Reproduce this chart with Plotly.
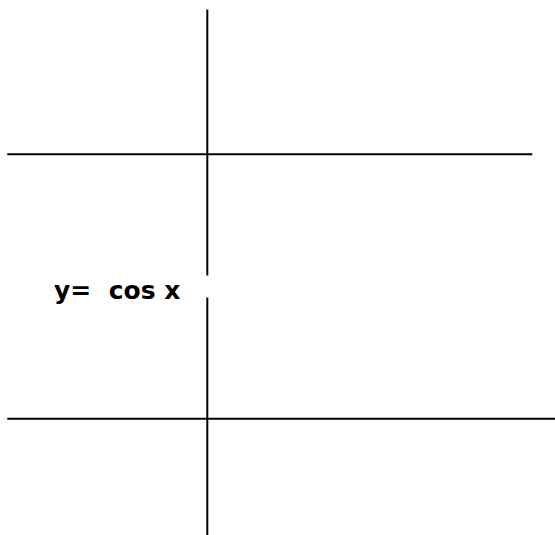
import plotly.graph_objs as go

# canvas units (pixels of the sketch), y grows downward
axis_x = 207.3
upper_axis_top = 9.5
upper_axis_bottom = 275.5
lower_axis_top = 297.5
lower_axis_bottom = 535

upper_h_y = 154.3
upper_h_x = [7.3, 532.3]
lower_h_y = 418.7
lower_h_x = [7.3, 555]

label_text = "y=&nbsp;&nbsp;cos x"
label_x = 52
label_y = 290

segments_x = [
    axis_x, axis_x, None,
    axis_x, axis_x, None,
    upper_h_x[0], upper_h_x[1], None,
    lower_h_x[0], lower_h_x[1],
]
segments_y = [
    upper_axis_top, upper_axis_bottom, None,
    lower_axis_top, lower_axis_bottom, None,
    upper_h_y, upper_h_y, None,
    lower_h_y, lower_h_y,
]

lines = go.Scatter(
    x=segments_x,
    y=segments_y,
    mode="lines",
    line=dict(color="black", width=2),
    hoverinfo="skip",
    showlegend=False,
)

layout = go.Layout(
    width=555,
    height=535,
    margin=dict(l=0, r=0, t=0, b=0),
    paper_bgcolor="white",
    plot_bgcolor="white",
    xaxis=dict(range=[0, 555], visible=False, fixedrange=True),
    yaxis=dict(range=[535, 0], visible=False, fixedrange=True),
    annotations=[
        dict(
            x=label_x,
            y=label_y,
            xref="x",
            yref="y",
            text="<b>%s</b>" % label_text,
            showarrow=False,
            xanchor="left",
            yanchor="middle",
            font=dict(family="DejaVu Sans", size=25, color="black"),
        )
    ],
)

fig = go.Figure(data=[lines], layout=layout)
# drop the browser's default body margin so the sketch sits at 0,0
fig.write_html(
    "out.html",
    config=dict(displayModeBar=False),
    post_script="document.body.style.margin='0';",
)
